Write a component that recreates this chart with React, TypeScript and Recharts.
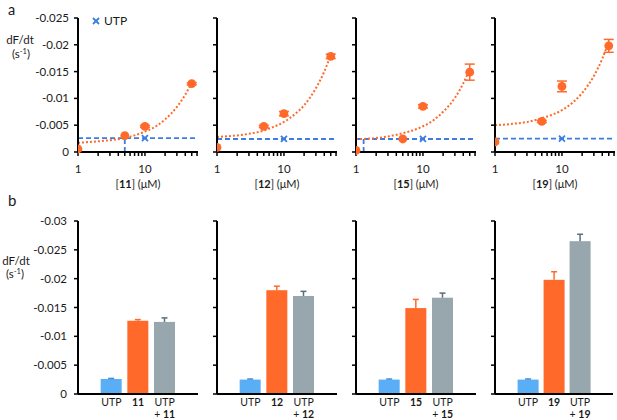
import React from "react";
import {
  ComposedChart,
  BarChart,
  Bar,
  Line,
  Scatter,
  XAxis,
  YAxis,
  ReferenceLine,
  ErrorBar,
} from "recharts";

// ---------- data ----------
const compounds = ["11", "12", "15", "19"];
const concentrations = [1, 5, 10, 50];

const rate11 = [-0.00056, -0.00304, -0.00478, -0.01274];
const rate12 = [-0.00086, -0.00478, -0.00715, -0.01784];
const rate15 = [-0.0003, -0.00243, -0.0085, -0.0149];
const rate19 = [-0.00187, -0.0057, -0.01224, -0.0198];

const err11 = [0, 0, 0.0002, 0.0002];
const err12 = [0, 0.0002, 0.0004, 0.0004];
const err15 = [0, 0, 0.0003, 0.0015];
const err19 = [0, 0.0002, 0.001, 0.0012];

const utpLevel = [-0.0026, -0.00243, -0.00243, -0.00248];
const utpCross = [5, 1, 1.3, 1];
const utpConc = 10;

const fitX = [1, 2, 3, 5, 7, 10, 15, 20, 30, 40, 50];
const fit11 = [-0.0017, -0.002, -0.0022, -0.0026, -0.0031, -0.0038, -0.0049, -0.0061, -0.0084, -0.0107, -0.0129];
const fit12 = [-0.0028, -0.0031, -0.0034, -0.004, -0.0047, -0.0056, -0.0072, -0.0087, -0.0119, -0.015, -0.0181];
const fit15 = [-0.0024, -0.0026, -0.0029, -0.0035, -0.004, -0.0048, -0.0061, -0.0075, -0.0101, -0.0128, -0.0155];
const fit19 = [-0.005, -0.0053, -0.0056, -0.0063, -0.0069, -0.0078, -0.0094, -0.011, -0.0142, -0.0174, -0.0206];

const topYTicks = [-0.025, -0.02, -0.015, -0.01, -0.005, 0];
const topXTicks = [1, 2, 3, 4, 5, 6, 7, 8, 9, 10, 20, 30, 40, 50, 60];
const topXLabels = [1, 10];

const utpBar = [-0.0026, -0.0025, -0.0025, -0.0025];
const utpBarErr = [0.0001, 0.0001, 0.0001, 0.0001];
const cmpBar = [-0.0127, -0.018, -0.0149, -0.0198];
const cmpBarErr = [0.0002, 0.0007, 0.0015, 0.0014];
const comboBar = [-0.0125, -0.017, -0.0167, -0.0265];
const comboBarErr = [0.0007, 0.0008, 0.0008, 0.0012];

const bottomYTicks = [-0.03, -0.025, -0.02, -0.015, -0.01, -0.005, 0];

const rates = [rate11, rate12, rate15, rate19];
const rateErrs = [err11, err12, err15, err19];
const fits = [fit11, fit12, fit15, fit19];

// ---------- style ----------
const FONT = "Lato, 'Open Sans', sans-serif";
const TXT = "#1a1a1a";
const ORANGE = "#ff6a2b";
const BLUE = "#3b7de0";
const BAR_COLORS = ["#5aaef5", "#ff6a2b", "#97a7ad"];
const ERR_COLORS = ["#3d8de0", "#ff6a2b", "#5a6e7b"];
const PANEL_STEP = 139;
const PLOT_W = [120, 120, 120, 118];

const UtpMark = (p: any) => (
  <g stroke={BLUE} strokeWidth={1.8}>
    <line x1={p.cx - 3} y1={p.cy - 3} x2={p.cx + 3} y2={p.cy + 3} />
    <line x1={p.cx - 3} y1={p.cy + 3} x2={p.cx + 3} y2={p.cy - 3} />
  </g>
);

const Dot = (p: any) => <circle cx={p.cx} cy={p.cy} r={4.4} fill={ORANGE} />;

function TopPanel({ k }: { k: number }) {
  const pts = concentrations.map((x, i) => ({ x, y: rates[k][i], e: rateErrs[k][i] }));
  const fit = fitX.map((x, i) => ({ x, y: fits[k][i] }));
  const utp = [{ x: utpConc, y: utpLevel[k] }];
  return (
    <ComposedChart
      width={78 + 120 + 4}
      height={195}
      margin={{ top: 18, right: 4, bottom: 0, left: 0 }}
    >
      <XAxis
        type="number"
        dataKey="x"
        scale="log"
        domain={[1, 62]}
        allowDataOverflow
        ticks={topXTicks}
        interval={0}
        tickFormatter={(v: number) => (topXLabels.includes(v) ? String(v) : "")}
        tickSize={4}
        tickMargin={9}
        height={43}
        axisLine={{ stroke: "#000", strokeWidth: 2 }}
        tickLine={{ stroke: "#000", strokeWidth: 1.5 }}
        tick={{ fill: TXT, fontSize: 11.5, fontFamily: FONT }}
      />
      <YAxis
        type="number"
        dataKey="y"
        domain={[-0.025, 0]}
        reversed
        ticks={topYTicks}
        interval={0}
        width={78}
        tickSize={4}
        tickMargin={5}
        tickFormatter={(v: number) => (k === 0 ? String(v) : "")}
        axisLine={{ stroke: "#000", strokeWidth: 2 }}
        tickLine={{ stroke: "#000", strokeWidth: 1.5 }}
        tick={{ fill: TXT, fontSize: 11.5, fontFamily: FONT }}
      />
      <ReferenceLine
        y={utpLevel[k]}
        stroke={BLUE}
        strokeWidth={1.8}
        strokeDasharray="5 3"
      />
      <ReferenceLine
        segment={[
          { x: utpCross[k], y: 0 },
          { x: utpCross[k], y: utpLevel[k] },
        ]}
        stroke={BLUE}
        strokeWidth={1.8}
        strokeDasharray="5 3"
      />
      <Line
        data={fit}
        dataKey="y"
        type="monotone"
        stroke={ORANGE}
        strokeWidth={2}
        strokeDasharray="2 2"
        dot={false}
        activeDot={false}
        isAnimationActive={false}
      />
      <Scatter data={pts} dataKey="y" shape={Dot} isAnimationActive={false}>
        <ErrorBar dataKey="e" direction="y" width={5} stroke={ORANGE} strokeWidth={1.5} />
      </Scatter>
      <Scatter data={utp} dataKey="y" shape={UtpMark} isAnimationActive={false} />
    </ComposedChart>
  );
}

const BarWithErr = (p: any) => {
  const { x, y, width, height, index, payload } = p;
  const top = Math.min(y, y + height);
  const h = Math.abs(height);
  const pxPerUnit = Math.abs(payload.v) > 0 ? h / Math.abs(payload.v) : 0;
  const ep = payload.e * pxPerUnit;
  const cx = x + width / 2;
  const ec = ERR_COLORS[index];
  return (
    <g>
      <rect x={x} y={top} width={width} height={h} fill={BAR_COLORS[index]} />
      <line x1={cx} y1={top} x2={cx} y2={top - ep} stroke={ec} strokeWidth={1.5} />
      <line x1={cx - 3} y1={top - ep} x2={cx + 3} y2={top - ep} stroke={ec} strokeWidth={1.5} />
    </g>
  );
};

const BarTick = (p: any) => {
  const { x, y, payload } = p;
  const v: string = payload.value;
  if (v.startsWith("UTP +")) {
    const c = v.replace("UTP + ", "");
    return (
      <g>
        <text x={x} y={y + 11.5} textAnchor="middle" fill={TXT} fontSize={10.5} fontFamily={FONT}>
          UTP
        </text>
        <text x={x} y={y + 23.8} textAnchor="middle" fill={TXT} fontSize={10.5} fontFamily={FONT}>
          {"+ "}
          <tspan fontWeight="bold">{c}</tspan>
        </text>
      </g>
    );
  }
  return (
    <text
      x={x}
      y={y + 11.5}
      textAnchor="middle"
      fill={TXT}
      fontSize={10.5}
      fontFamily={FONT}
      fontWeight={v === "UTP" ? "normal" : "bold"}
    >
      {v}
    </text>
  );
};

function BottomPanel({ k }: { k: number }) {
  const c = compounds[k];
  const data = [
    { name: "UTP", v: utpBar[k], e: utpBarErr[k] },
    { name: c, v: cmpBar[k], e: cmpBarErr[k] },
    { name: "UTP + " + c, v: comboBar[k], e: comboBarErr[k] },
  ];
  return (
    <BarChart
      width={78 + PLOT_W[k] + 3}
      height={220}
      data={data}
      margin={{ top: 21, right: 3, bottom: 0, left: 0 }}
      barCategoryGap="10%"
    >
      <XAxis
        dataKey="name"
        type="category"
        padding={{ left: 20, right: 20 }}
        height={26}
        interval={0}
        tickSize={0}
        tickMargin={0}
        tickLine={false}
        axisLine={{ stroke: "#000", strokeWidth: 2 }}
        tick={<BarTick />}
      />
      <YAxis
        type="number"
        domain={[-0.03, 0]}
        reversed
        ticks={bottomYTicks}
        interval={0}
        width={78}
        tickSize={4}
        tickMargin={7}
        tickFormatter={(v: number) => (k === 0 ? String(v) : "")}
        axisLine={{ stroke: "#000", strokeWidth: 2 }}
        tickLine={{ stroke: "#000", strokeWidth: 1.5 }}
        tick={{ fill: TXT, fontSize: 11.5, fontFamily: FONT }}
      />
      <Bar dataKey="v" shape={BarWithErr} isAnimationActive={false} />
    </BarChart>
  );
}

const SupUnit = ({ x, y }: { x: number; y: number }) => (
  <text x={x} y={y} textAnchor="middle" fill={TXT} fontSize={11.5} fontFamily={FONT}>
    (s
    <tspan dy={-4.5} fontSize={7.5}>-1</tspan>
    <tspan dy={4.5}>)</tspan>
  </text>
);

export default function App() {
  return (
    <div
      style={{
        position: "absolute",
        left: 0,
        top: 0,
        width: 617,
        height: 420,
        overflow: "hidden",
        background: "#fff",
        fontFamily: FONT,
      }}
    >
      {compounds.map((c, k) => (
        <div key={"t" + c} style={{ position: "absolute", left: PANEL_STEP * k, top: 0 }}>
          <TopPanel k={k} />
        </div>
      ))}
      {compounds.map((c, k) => (
        <div key={"b" + c} style={{ position: "absolute", left: PANEL_STEP * k, top: 200 }}>
          <BottomPanel k={k} />
        </div>
      ))}
      <svg
        width={617}
        height={420}
        style={{ position: "absolute", left: 0, top: 0, pointerEvents: "none" }}
      >
        <text x={8} y={14.5} fill={TXT} fontSize={14.5} fontFamily={FONT}>a</text>
        <text x={8} y={206} fill={TXT} fontSize={15} fontFamily={FONT}>b</text>
        <text x={20} y={44} textAnchor="middle" fill={TXT} fontSize={11.5} fontFamily={FONT}>dF/dt</text>
        <SupUnit x={21} y={58} />
        <text x={16} y={265} textAnchor="middle" fill={TXT} fontSize={11.5} fontFamily={FONT}>dF/dt</text>
        <SupUnit x={15} y={278} />
        <g stroke={BLUE} strokeWidth={1.8}>
          <line x1={93} y1={18} x2={99} y2={24} />
          <line x1={93} y1={24} x2={99} y2={18} />
        </g>
        <text x={104} y={25} fill={TXT} fontSize={12} fontFamily={FONT}>UTP</text>
        {compounds.map((c, k) => (
          <text
            key={"xl" + c}
            x={138 + PANEL_STEP * k}
            y={187.5}
            textAnchor="middle"
            fill={TXT}
            fontSize={11}
            fontFamily={FONT}
          >
            [<tspan fontWeight="bold">{c}</tspan>] (μM)
          </text>
        ))}
      </svg>
    </div>
  );
}
